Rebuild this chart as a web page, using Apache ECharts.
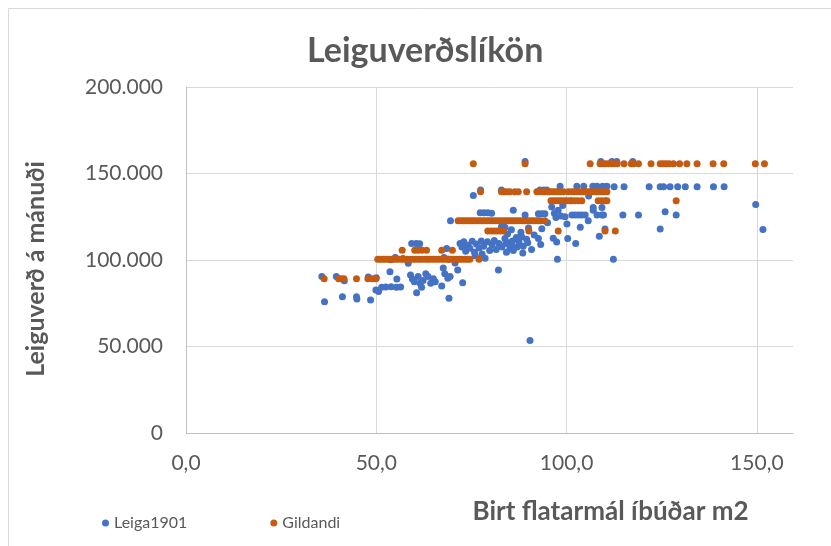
<!doctype html>
<html lang="is">

<head>
    <meta charset="utf-8">
    <title>Leiguverðslíkön</title>
    <style>
        html, body {
            margin: 0;
            padding: 0;
            background: #fff;
        }

        #chart {
            width: 831px;
            height: 546px;
        }
    </style>
</head>

<body>
    <div id="chart"></div>
    <script src="https://cdn.jsdelivr.net/npm/echarts@6/dist/echarts.min.js"></script>
    <script>
        // Leiga1901 - [flatarmál m2, leiguverð]
        var leiga1901 = [
            [35.7, 90400], [36.4, 75800], [39.5, 90400], [41.1, 78800], [41.6, 88000], [44.8, 78800],
            [44.9, 77400], [47.9, 90200], [48.5, 76900], [50.0, 89800], [49.9, 82700], [50.6, 81800],
            [51.4, 84200], [52.5, 84400], [53.6, 93200], [53.9, 84500], [55.4, 89000], [55.3, 84300],
            [56.4, 84400], [57.0, 100800], [55.0, 101500], [53.8, 100200], [58.4, 98100], [59.3, 109600],
            [60.5, 109600], [61.4, 109400], [59.0, 91300], [59.5, 89000], [60.0, 87500], [60.6, 81000],
            [61.0, 90500], [61.5, 86500], [61.9, 84200], [62.3, 88200], [63.0, 92000], [63.6, 90400],
            [64.3, 86600], [65.0, 89200], [65.5, 87500], [67.2, 85000], [67.6, 95400], [68.0, 92000],
            [68.5, 106700], [68.8, 89500], [69.1, 77900], [69.4, 90500], [69.5, 122700], [69.0, 100500],
            [67.8, 101500], [70.7, 98300], [71.4, 94200], [72.0, 109600], [72.7, 86900],
            [72.5, 107500], [73.0, 110500], [73.5, 105000], [74.0, 108500], [74.6, 106800], [75.2, 110800],
            [75.8, 104500], [76.3, 109200], [77.0, 107000], [77.6, 111000], [78.2, 108000], [78.6, 101000],
            [79.2, 110500], [79.8, 105500], [80.4, 108800], [81.0, 111200], [81.5, 106000], [82.1, 94200],
            [82.2, 109500], [82.9, 119200], [83.0, 107500], [83.8, 112500], [84.2, 104500], [84.8, 110000],
            [85.1, 106700], [85.5, 108500], [76.0, 102500], [77.8, 103500],
            [75.5, 137300], [77.4, 140400], [77.3, 127300], [78.3, 127300], [79.3, 127300], [80.3, 127000],
            [82.9, 140400],
            [83.8, 119000], [84.5, 115000], [85.5, 117500], [86.0, 128800], [86.8, 113000], [87.5, 110500],
            [88.0, 116000], [88.6, 108000], [89.1, 126000], [89.1, 157000], [89.5, 112000], [90.0, 118500],
            [90.4, 53400], [90.8, 106000], [91.5, 114500], [92.6, 126700], [93.0, 140400], [93.5, 126700],
            [94.0, 140400], [94.3, 126700], [94.8, 140400], [92.6, 112500], [93.2, 109000], [93.5, 118000],
            [95.0, 121500], [96.1, 130700], [96.5, 112600], [96.8, 127000], [97.2, 124500], [97.4, 110400],
            [97.6, 100400], [97.8, 128800], [98.3, 142700], [98.5, 125500], [99.0, 131500], [99.6, 125000],
            [100.1, 120800], [100.3, 112500], [101.4, 126000], [102.3, 126000], [102.4, 109600], [102.7, 142700],
            [103.2, 126000], [103.6, 118900], [104.0, 126000], [104.5, 142700], [104.9, 126000], [105.7, 122700],
            [105.8, 137000], [106.9, 142700], [107.0, 128800], [107.0, 130400], [108.0, 126000], [108.0, 142700],
            [108.6, 113800], [109.0, 157000], [109.3, 126000], [109.3, 130400], [109.5, 142700], [109.7, 126000],
            [110.1, 117900], [110.6, 142700], [84.0, 109500], [85.8, 111000], [87.0, 107500], [88.2, 113500],
            [89.8, 110000], [86.0, 105500], [88.5, 104000],
            [111.9, 157000], [112.3, 100400], [112.5, 142300], [113.2, 157000], [114.8, 126000], [115.1, 142300],
            [117.4, 157000], [118.9, 126000], [121.7, 142300], [124.6, 142300], [124.6, 117900], [125.5, 142300],
            [125.9, 127900], [127.2, 142300], [128.8, 126000], [129.2, 142300], [131.2, 142300], [134.3, 142300],
            [138.6, 142300], [141.4, 142300], [149.7, 132100], [151.6, 117700]
        ];

        // Gildandi - [flatarmál m2, leiguverð]
        var gildandi = [
            [36.3, 89200], [40.1, 89200], [40.8, 89200], [41.5, 89200], [44.8, 89200], [47.8, 89200],
            [48.9, 89200], [49.9, 89200],
            [50.4, 100400], [51.0, 100400], [51.7, 100400], [52.3, 100400], [53.0, 100400], [53.8, 100400],
            [54.5, 100400], [55.2, 100400], [56.0, 100400], [56.8, 100400], [57.5, 100400], [58.2, 100400],
            [59.0, 100400], [59.8, 100400], [60.5, 100400], [61.3, 100400], [62.0, 100400], [62.8, 100400],
            [63.5, 100400], [64.2, 100400], [65.0, 100400], [65.8, 100400], [66.5, 100400], [67.3, 100400],
            [68.0, 100400], [68.8, 100400], [69.5, 100400], [70.3, 100400], [71.0, 100400], [71.8, 100400],
            [72.5, 100400], [73.3, 100400], [74.0, 100400], [74.6, 100400], [77.0, 100400],
            [56.8, 105600], [60.1, 105600], [61.0, 105600], [62.0, 105600], [63.2, 105600], [67.2, 105600],
            [70.0, 105600],
            [79.3, 116700], [80.2, 116700], [81.0, 116700], [81.8, 116700], [82.6, 116700], [83.4, 116700],
            [90.1, 116700], [97.8, 116700], [110.1, 116700], [112.8, 116700],
            [71.5, 122700], [72.2, 122700], [72.9, 122700], [73.6, 122700], [74.3, 122700], [75.0, 122700],
            [75.7, 122700], [76.4, 122700], [77.1, 122700], [77.8, 122700], [78.5, 122700], [79.2, 122700],
            [79.9, 122700], [80.6, 122700], [81.3, 122700], [82.0, 122700], [82.7, 122700], [83.4, 122700],
            [84.1, 122700], [84.8, 122700], [85.5, 122700], [86.2, 122700], [86.9, 122700], [87.6, 122700],
            [88.3, 122700], [89.0, 122700], [89.7, 122700], [90.4, 122700], [91.1, 122700], [91.8, 122700],
            [92.5, 122700], [93.2, 122700], [94.3, 122700],
            [95.9, 134200], [96.6, 134200], [97.3, 134200], [98.0, 134200], [98.7, 134200], [99.4, 134200],
            [100.1, 134200], [100.9, 134200], [101.4, 134200], [102.2, 134200], [103.0, 134200], [104.0, 134200],
            [108.3, 134200], [109.2, 134200], [110.1, 134200], [110.6, 134200], [128.8, 134200],
            [77.4, 139400], [82.9, 139400], [83.6, 139400], [84.3, 139400], [85.1, 139400], [86.4, 139400],
            [87.3, 139400], [89.5, 139400], [92.2, 139400], [92.9, 139400], [93.6, 139400], [94.3, 139400],
            [95.0, 139400], [95.7, 139400], [96.4, 139400], [97.1, 139400], [97.8, 139400], [98.5, 139400],
            [99.2, 139400], [100.5, 139400], [101.4, 139400], [102.1, 139400], [102.8, 139400], [103.5, 139400],
            [104.2, 139400], [104.9, 139400], [105.6, 139400], [106.3, 139400], [107.0, 139400], [107.7, 139400],
            [108.4, 139400], [109.1, 139400], [109.8, 139400], [110.6, 139400],
            [75.5, 155600], [89.1, 155600], [106.2, 155600], [108.8, 155600], [109.5, 155600], [110.2, 155600],
            [111.0, 155600], [111.8, 155600], [112.6, 155600], [113.3, 155600], [115.1, 155600], [117.0, 155600],
            [117.6, 155600], [118.9, 155600], [122.2, 155600], [124.6, 155600], [125.4, 155600], [126.2, 155600],
            [127.0, 155600], [128.1, 155600], [129.7, 155600], [131.6, 155600], [134.3, 155600], [138.5, 155600],
            [141.3, 155600], [149.6, 155600], [152.0, 155600]
        ];

        var seriesNames = ['Leiga1901', 'Gildandi'];
        var seriesColors = ['#4472C4', '#C55A11'];

        var font = 'Lato, "Noto Sans", sans-serif';
        var textGray = '#595959';

        function fmtThousands(v) {
            return String(v).replace(/\B(?=(\d{3})+(?!\d))/g, '.');
        }

        var chart = echarts.init(document.getElementById('chart'), null, {
            width: 831,
            height: 546,
            renderer: 'canvas'
        });

        chart.setOption({
            backgroundColor: '#fff',
            animation: false,
            textStyle: {
                fontFamily: font
            },
            title: {
                text: 'Leiguverðslíkön',
                left: 302,
                top: 29,
                textStyle: {
                    fontFamily: font,
                    fontSize: 34,
                    fontWeight: 'bold',
                    color: textGray
                }
            },
            graphic: [{
                type: 'rect',
                left: 6,
                top: 6,
                shape: { width: 860, height: 580 },
                style: { fill: 'none', stroke: '#d9d9d9', lineWidth: 1 },
                silent: true
            }],
            legend: {
                data: seriesNames,
                left: 97,
                top: 510,
                icon: 'circle',
                itemWidth: 7,
                itemHeight: 7,
                itemGap: 83,
                textStyle: {
                    fontFamily: font,
                    fontSize: 16,
                    color: textGray
                }
            },
            grid: {
                left: 186,
                top: 87,
                right: 38,
                bottom: 113,
                containLabel: false
            },
            xAxis: {
                type: 'value',
                min: 0,
                max: 159.5,
                interval: 50,
                name: 'Birt flatarmál íbúðar m2',
                nameLocation: 'middle',
                nameGap: 66,
                nameTextStyle: {
                    fontFamily: font,
                    fontSize: 26,
                    fontWeight: 'bold',
                    color: textGray,
                    padding: [0, 0, 0, 242]
                },
                axisLine: { show: true, onZero: false, lineStyle: { color: '#bfbfbf', width: 1 } },
                axisTick: { show: false },
                axisLabel: {
                    margin: 20,
                    fontSize: 21,
                    color: textGray,
                    showMaxLabel: false,
                    formatter: function (v) {
                        return v.toFixed(1).replace('.', ',');
                    }
                },
                splitLine: {
                    show: true,
                    showMaxLine: false,
                    lineStyle: { color: '#d9d9d9', width: 1 }
                }
            },
            yAxis: {
                type: 'value',
                min: 0,
                max: 200000,
                interval: 50000,
                name: 'Leiguverð á mánuði',
                nameLocation: 'middle',
                nameGap: 138,
                nameTextStyle: {
                    fontFamily: font,
                    fontSize: 25,
                    fontWeight: 'bold',
                    color: textGray,
                    padding: [0, 18, 0, 0]
                },
                axisLine: { show: true, lineStyle: { color: '#bfbfbf', width: 1 } },
                axisTick: { show: false },
                axisLabel: {
                    margin: 23,
                    fontSize: 21,
                    color: textGray,
                    formatter: fmtThousands
                },
                splitLine: {
                    show: true,
                    lineStyle: { color: '#d9d9d9', width: 1 }
                }
            },
            series: [{
                name: seriesNames[0],
                type: 'scatter',
                symbol: 'circle',
                symbolSize: 7,
                itemStyle: { color: seriesColors[0], opacity: 1 },
                data: leiga1901
            }, {
                name: seriesNames[1],
                type: 'scatter',
                symbol: 'circle',
                symbolSize: 7,
                itemStyle: { color: seriesColors[1], opacity: 1 },
                data: gildandi
            }]
        });
    </script>
</body>

</html>
